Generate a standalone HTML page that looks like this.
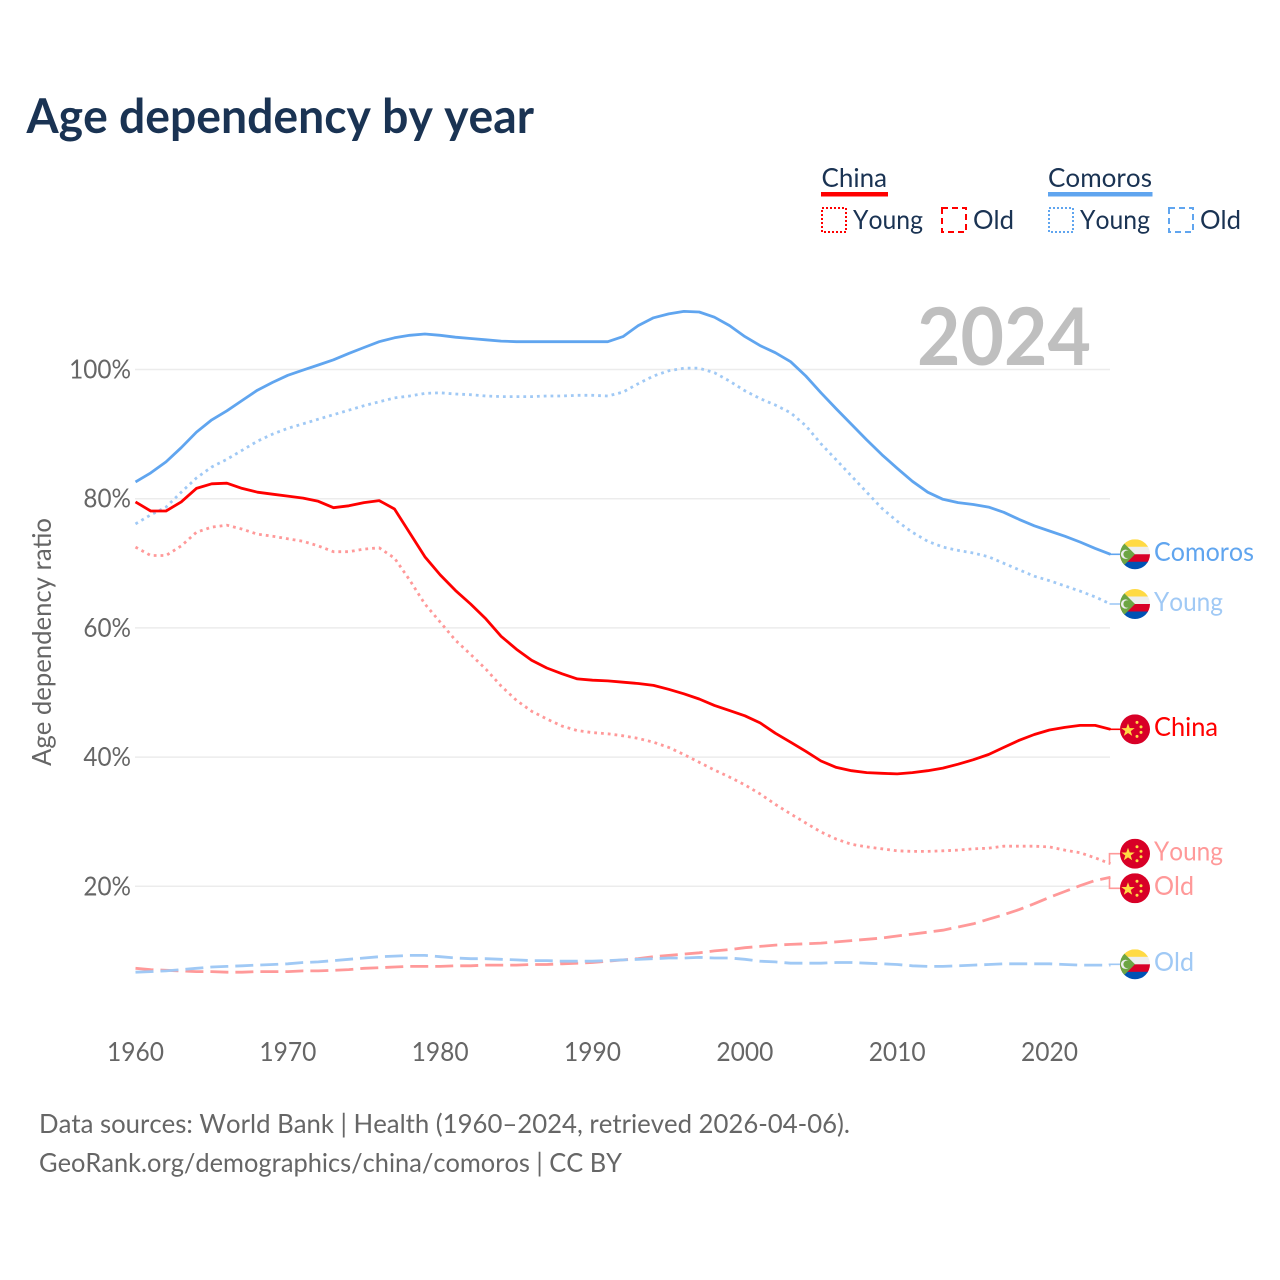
<!DOCTYPE html>
<html lang="en">
<head>
<meta charset="utf-8">
<title>Age dependency by year</title>
<style>
html,body{margin:0;padding:0;background:#fff;}
svg{display:block;}
text{font-family:"Lato","Carlito","Liberation Sans",sans-serif;font-kerning:none;}
</style>
</head>
<body>
<svg id="chart" xmlns="http://www.w3.org/2000/svg" width="1280" height="1280" viewBox="0 0 1280 1280">
  <defs>
    <clipPath id="flag-clip"><circle cx="0" cy="0" r="15"/></clipPath>
    <g id="flag-comoros" clip-path="url(#flag-clip)">
      <rect x="-15" y="-15" width="30" height="8" fill="#ffda44"/>
      <rect x="-15" y="-7.5" width="30" height="8" fill="#eeeeee"/>
      <rect x="-15" y="0" width="30" height="8" fill="#d80027"/>
      <rect x="-15" y="7.5" width="30" height="8" fill="#0052b4"/>
      <polygon points="-15,-15 0,0 -15,15" fill="#6da544"/>
      <circle cx="-9.5" cy="0" r="4.6" fill="#eeeeee"/>
      <circle cx="-7.8" cy="0" r="3.8" fill="#6da544"/>
    </g>
    <g id="flag-china" clip-path="url(#flag-clip)">
      <rect x="-15" y="-15" width="30" height="30" fill="#d80027"/>
      <polygon points="-7,-6 -5.3,-1.2 -0.3,-1.2 -4.3,1.8 -2.8,6.5 -7,3.7 -11.2,6.5 -9.7,1.8 -13.7,-1.2 -8.7,-1.2" fill="#ffda44"/>
      <circle cx="2" cy="-7" r="1.5" fill="#ffda44"/>
      <circle cx="6" cy="-2.5" r="1.5" fill="#ffda44"/>
      <circle cx="6" cy="3" r="1.5" fill="#ffda44"/>
      <circle cx="2" cy="7" r="1.5" fill="#ffda44"/>
    </g>
  </defs>

  <text x="26.5" y="133" font-size="48" font-weight="700" fill="#1a3353" textLength="507.5" lengthAdjust="spacingAndGlyphs">Age dependency by year</text>

  <g>
    <text x="821.5" y="187" font-size="26" fill="#1a3353" textLength="65.5" lengthAdjust="spacingAndGlyphs">China</text>
    <rect x="821" y="192" width="67" height="4.5" fill="#ff0000"/>
    <rect x="822" y="208" width="24" height="24" fill="none" stroke="#ff0000" stroke-width="2" stroke-dasharray="2 2"/>
    <text x="853" y="229" font-size="26" fill="#1a3353" textLength="70" lengthAdjust="spacingAndGlyphs">Young</text>
    <rect x="942" y="208" width="24" height="24" fill="none" stroke="#ff0000" stroke-width="2" stroke-dasharray="6 4"/>
    <text x="973" y="229" font-size="26" fill="#1a3353" textLength="41" lengthAdjust="spacingAndGlyphs">Old</text>

    <text x="1048" y="187" font-size="26" fill="#1a3353" textLength="104" lengthAdjust="spacingAndGlyphs">Comoros</text>
    <rect x="1048" y="192" width="104.5" height="4.5" fill="#60a5ef"/>
    <rect x="1049" y="208" width="24" height="24" fill="none" stroke="#60a5ef" stroke-width="2" stroke-dasharray="2 2"/>
    <text x="1080" y="229" font-size="26" fill="#1a3353" textLength="70" lengthAdjust="spacingAndGlyphs">Young</text>
    <rect x="1169" y="208" width="24" height="24" fill="none" stroke="#60a5ef" stroke-width="2" stroke-dasharray="6 4"/>
    <text x="1200" y="229" font-size="26" fill="#1a3353" textLength="41" lengthAdjust="spacingAndGlyphs">Old</text>
  </g>

  <g id="grid"></g>
  <text x="917" y="365" font-size="80" font-weight="700" fill="#bfbfbf" textLength="174" lengthAdjust="spacingAndGlyphs">2024</text>
  <g id="y-ticks"></g>
  <g id="x-ticks"></g>
  <text transform="translate(51,642) rotate(-90)" text-anchor="middle" font-size="26" fill="#666666" textLength="248" lengthAdjust="spacingAndGlyphs">Age dependency ratio</text>
  <g id="series"></g>
  <g id="end-labels"></g>

  <text x="39" y="1133" font-size="26" fill="#666666" textLength="811" lengthAdjust="spacingAndGlyphs">Data sources: World Bank | Health (1960–2024, retrieved 2026-04-06).</text>
  <text x="39" y="1172" font-size="26" fill="#666666" textLength="583" lengthAdjust="spacingAndGlyphs">GeoRank.org/demographics/china/comoros | CC BY</text>
</svg>
<script>
const startYear = 1960;
const xTickYears = [1960, 1970, 1980, 1990, 2000, 2010, 2020];
const yTickValues = [20, 40, 60, 80, 100];

const chinaTotal = [79.5,78.1,78.1,79.5,81.6,82.3,82.4,81.6,81.0,80.7,
  80.4,80.1,79.6,78.6,78.9,79.4,79.7,78.4,74.7,71.0,
  68.2,65.8,63.7,61.4,58.7,56.7,55.0,53.8,52.9,52.1,
  51.9,51.8,51.6,51.4,51.1,50.5,49.8,49.0,48.0,47.2,
  46.4,45.3,43.7,42.3,40.9,39.4,38.4,37.9,37.6,37.5,
  37.4,37.6,37.9,38.3,38.9,39.6,40.4,41.5,42.6,43.5,
  44.2,44.6,44.9,44.9,44.3];
const chinaYoung = [72.5,71.2,71.2,72.7,74.8,75.6,75.9,75.3,74.5,74.2,
  73.8,73.4,72.7,71.8,71.8,72.2,72.4,70.8,67.4,63.7,
  60.9,58.1,55.9,53.6,51.0,48.8,47.1,45.9,44.8,44.1,
  43.8,43.6,43.3,42.9,42.3,41.5,40.4,39.2,38.0,36.9,
  35.7,34.3,32.7,31.2,29.8,28.4,27.3,26.5,26.1,25.8,
  25.5,25.4,25.4,25.5,25.6,25.8,25.9,26.2,26.2,26.2,
  26.1,25.6,25.2,24.4,23.5];
const chinaOld = [7.3,7.1,7.0,6.9,6.8,6.8,6.7,6.7,6.8,6.8,
  6.8,6.9,6.9,7.0,7.1,7.3,7.4,7.5,7.6,7.6,
  7.6,7.7,7.7,7.8,7.8,7.8,7.9,7.9,8.0,8.1,
  8.2,8.4,8.6,8.8,9.1,9.3,9.5,9.7,10.0,10.2,
  10.5,10.7,10.9,11.0,11.1,11.2,11.4,11.6,11.8,12.0,
  12.3,12.6,12.9,13.2,13.7,14.2,14.9,15.6,16.4,17.3,
  18.3,19.2,20.1,20.9,21.4];
const comorosTotal = [82.6,84.0,85.7,87.9,90.3,92.2,93.6,95.2,96.8,98.0,
  99.1,99.9,100.7,101.5,102.5,103.4,104.3,104.9,105.3,105.5,
  105.3,105.0,104.8,104.6,104.4,104.3,104.3,104.3,104.3,104.3,
  104.3,104.3,105.1,106.8,108.0,108.6,109.0,108.9,108.1,106.8,
  105.1,103.7,102.6,101.2,99.0,96.4,93.9,91.5,89.1,86.8,
  84.7,82.7,81.0,79.9,79.4,79.1,78.7,77.9,76.8,75.8,
  75.0,74.2,73.3,72.3,71.4];
const comorosYoung = [76.1,77.5,78.7,81.0,83.2,84.9,86.1,87.5,88.9,90.0,
  90.9,91.6,92.3,93.0,93.7,94.4,95.0,95.6,95.9,96.3,
  96.4,96.2,96.1,95.9,95.8,95.8,95.8,95.9,95.9,96.0,
  96.0,95.9,96.5,97.8,99.0,99.8,100.2,100.2,99.5,98.2,
  96.7,95.5,94.5,93.3,91.3,88.5,86.0,83.5,81.0,78.5,
  76.5,74.8,73.4,72.5,72.0,71.6,71.0,70.0,69.0,68.0,
  67.3,66.5,65.7,64.8,63.7];
const comorosOld = [6.7,6.8,6.9,7.1,7.3,7.5,7.6,7.7,7.8,7.9,
  8.0,8.2,8.3,8.5,8.7,8.9,9.1,9.2,9.3,9.3,
  9.1,8.9,8.8,8.8,8.7,8.6,8.5,8.5,8.4,8.4,
  8.4,8.5,8.6,8.7,8.8,8.9,8.9,9.0,8.9,8.9,
  8.7,8.4,8.3,8.1,8.1,8.1,8.2,8.2,8.1,8.0,
  7.9,7.7,7.6,7.6,7.7,7.8,7.9,8.0,8.0,8.0,
  8.0,7.9,7.8,7.8,7.8];

const NS = 'http://www.w3.org/2000/svg';
function xScale(year) { return 135.5 + (year - 1960) * 15.234; }
function yScale(v) { return 369.5 + (100 - v) * 6.46; }
function make(tag, attrs, parent, text) {
  const el = document.createElementNS(NS, tag);
  for (const k in attrs) el.setAttribute(k, attrs[k]);
  if (text !== undefined) el.textContent = text;
  parent.appendChild(el);
  return el;
}

const gridG = document.getElementById('grid');
const yG = document.getElementById('y-ticks');
const xG = document.getElementById('x-ticks');
yTickValues.forEach(function (v) {
  const line = make('line', {x1: 135, x2: 1110, y1: yScale(v), y2: yScale(v), stroke: '#ececec', 'stroke-width': 1.5}, gridG);
  
  
  const label = v + '%';
  const lab = make('text', {x: 131, y: yScale(v) + 9, 'text-anchor': 'end', 'font-size': 26, fill: '#666666', textLength: String(v).length * 14.3 + 19, lengthAdjust: 'spacingAndGlyphs'}, yG, label);
  
  
});
xTickYears.forEach(function (yr) {
  const lab = make('text', {x: xScale(yr), y: 1061, 'text-anchor': 'middle', 'font-size': 26, fill: '#666666', textLength: 57, lengthAdjust: 'spacingAndGlyphs'}, xG, String(yr));
  
  
});

const seriesG = document.getElementById('series');
const labelsG = document.getElementById('end-labels');
function drawLine(values, name, color, dash) {
  const pts = values.map(function (v, i) { return xScale(startYear + i).toFixed(1) + ',' + yScale(v).toFixed(1); });
  const p = make('polyline', {points: pts.join(' '), fill: 'none', stroke: color, 'stroke-width': 2.8, 'stroke-linejoin': 'round'}, seriesG);
  if (dash) p.setAttribute('stroke-dasharray', dash);
  
  
}
function drawEnd(values, name, flag, color, text, width, nudge) {
  const lastY = yScale(values[values.length - 1]);
  const fy = lastY + nudge;
  const c = make('polyline', {points: '1109.5,' + lastY.toFixed(1) + ' 1109.5,' + fy.toFixed(1) + ' 1120,' + fy.toFixed(1), fill: 'none', stroke: color, 'stroke-width': 1.6}, labelsG);
  
  
  const u = make('use', {href: '#' + flag, x: 1135, y: fy}, labelsG);
  
  
  const t = make('text', {x: 1154, y: fy + 6.8, 'font-size': 26, fill: color, textLength: width, lengthAdjust: 'spacingAndGlyphs'}, labelsG, text);
  
  
}

drawLine(chinaYoung, 'line-china-young', '#ff9999', '2.8 4');
drawLine(chinaOld, 'line-china-old', '#ff9999', '18 7');
drawLine(comorosYoung, 'line-comoros-young', '#a0c9f5', '2.8 4');
drawLine(comorosOld, 'line-comoros-old', '#a0c9f5', '18 7');
drawLine(chinaTotal, 'line-china-total', '#ff0000', null);
drawLine(comorosTotal, 'line-comoros-total', '#60a5ef', null);

drawEnd(comorosTotal, 'end-comoros-total', 'flag-comoros', '#60a5ef', 'Comoros', 100, 0);
drawEnd(comorosYoung, 'end-comoros-young', 'flag-comoros', '#a0c9f5', 'Young', 69, 0);
drawEnd(chinaTotal, 'end-china-total', 'flag-china', '#ff0000', 'China', 64, 0);
drawEnd(chinaYoung, 'end-china-young', 'flag-china', '#ff9999', 'Young', 69, -10);
drawEnd(chinaOld, 'end-china-old', 'flag-china', '#ff9999', 'Old', 40, 11);
drawEnd(comorosOld, 'end-comoros-old', 'flag-comoros', '#a0c9f5', 'Old', 40, -0.8);
</script>
</body>
</html>
